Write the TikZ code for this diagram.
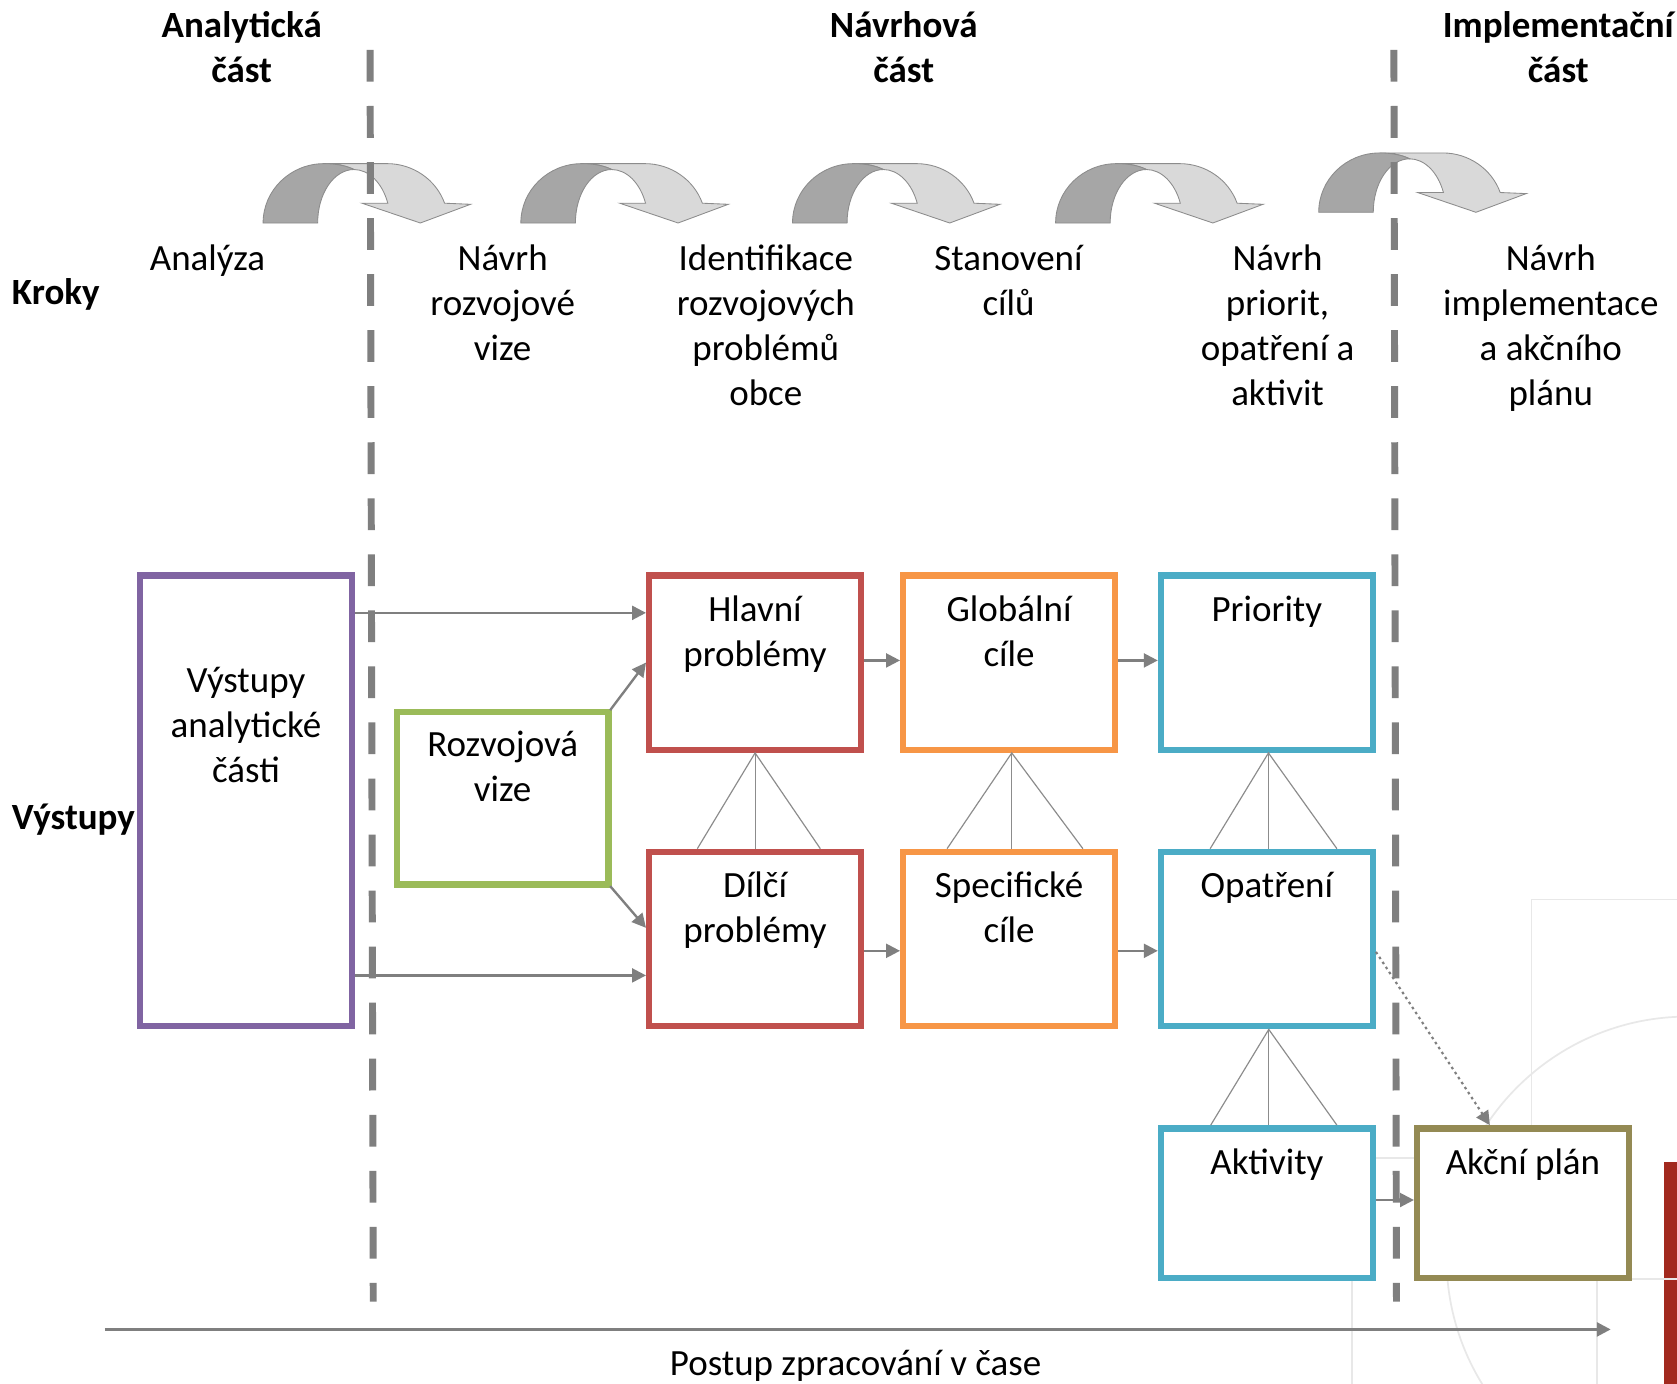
\documentclass[tikz,border=0pt]{standalone}
\usepackage{fontspec}
\setmainfont{Carlito}
\usetikzlibrary{arrows.meta}
\definecolor{cpurple}{HTML}{8064A2}
\definecolor{cgreen}{HTML}{9BBB59}
\definecolor{cred}{HTML}{C0504D}
\definecolor{corange}{HTML}{F79646}
\definecolor{cblue}{HTML}{4BACC6}
\definecolor{colive}{HTML}{948A54}
\definecolor{cgray}{HTML}{7F7F7F}
\definecolor{ctri}{HTML}{8C8C8C}
\definecolor{cdark}{HTML}{A6A6A6}
\definecolor{clight}{HTML}{D9D9D9}
\definecolor{coutl}{HTML}{8C8C8C}
\definecolor{cfaint}{HTML}{E8E8E8}
\definecolor{cbar}{HTML}{A2291E}
\newcommand{\regfont}{\fontsize{34.6}{42}\selectfont}
\newcommand{\bxtext}[3]{\parbox[c][#1][t]{198pt}{\centering\vspace*{#2}\strut #3\par}}
\tikzset{
  box/.style={draw, line width=6pt, fill=white, inner sep=0pt, font=\regfont},
  txt/.style={align=center, anchor=north, inner sep=0pt, font=\regfont},
  hdr/.style={txt, font=\regfont\bfseries},
  side/.style={anchor=base west, inner sep=0pt, font=\regfont\bfseries},
  conn/.style={draw=cgray, line width=2.2pt, -{Triangle[length=13pt,width=13pt]}},
  dotconn/.style={draw=cgray, line width=2pt, dash pattern=on 2.4pt off 3.2pt, -{Triangle[length=13pt,width=13pt]}},
  tri/.style={draw=ctri, line width=1.1pt},
  vdash/.style={draw=cgray, line width=6.5pt, dash pattern=on 29.7pt off 22.7pt},
  faint/.style={draw=cfaint, line width=1.6pt},
  carrow/.pic={
    \path[fill=clight, draw=coutl, line width=0.8pt] (57,0) -- (116,0)
      .. controls (140.1,0) and (161.7,14.9) .. (169.7,37) -- (194,38) -- (147,55.5)
      -- (92.5,37) -- (116.6,37) .. controls (111.45,18) and (98.9,5.5) .. (85,5.5)
      .. controls (79,2.5) and (70,0) .. (57,0) -- cycle;
    \path[fill=cdark, draw=coutl, line width=0.8pt] (0,55.5)
      .. controls (0,24.85) and (25.5,0) .. (57,0)
      .. controls (70,0) and (79,2.5) .. (85,5.5)
      .. controls (66.2,5.5) and (51,27.9) .. (51,55.5) -- cycle;
  }
}
\begin{document}
\begin{tikzpicture}[x=1pt,y=-1pt]
\path[use as bounding box, fill=white] (0,0) rectangle (1568,1294);

% faint background decoration
\begin{scope}
  \clip (1200,800) rectangle (1568,1294);
  \draw[faint] (1578,1176) circle[radius=225.5];
  \draw[faint] (1264,1294) -- (1264,1083) -- (1493,1083) -- (1493,1294);
\end{scope}
\fill[cbar] (1556,1086) rectangle (1568,1294);
\draw[faint] (1432,1198) -- (1432,841) -- (1568,841);
\draw[faint] (1432,1196) -- (1568,1196);

% curved step arrows
\pic at (246,153) {carrow};
\pic at (487,153) {carrow};
\pic at (741,153) {carrow};
\pic at (987,153) {carrow};
\pic at (1233,143) {carrow};

% phase separators
\draw[vdash] (346,46.7) -- (349,1217);
\draw[vdash] (1303.3,46.7) -- (1305.7,1217);

% headers
\node[hdr] (hA) at (226,5.1) {\strut Analytická\\část};
\node[hdr] (hN) at (845,5.1) {\strut Návrhová\\část};
\node[hdr] (hI) at (1457,5.1) {\strut Implementační\\část};

% step labels
\node[txt] (s1) at (194,223.4) {\strut Analýza};
\node[txt] (s2) at (470,223.4) {\strut Návrh\\rozvojové\\vize};
\node[txt] (s3) at (716,223.4) {\strut Identifikace\\rozvojových\\problémů\\obce};
\node[txt] (s4) at (943,223.4) {\strut Stanovení\\cílů};
\node[txt] (s5) at (1194.5,223.4) {\strut Návrh\\priorit,\\opatření a\\aktivit};
\node[txt] (s6) at (1450,223.4) {\strut Návrh\\implementace\\a akčního\\plánu};

\node[side] (kroky) at (11,285) {Kroky};
\node[side] (vystupy) at (11,776) {Výstupy};

% output boxes
\node[box, draw=cpurple] (vyst) at (230,748.75) {\bxtext{421.5pt}{80.5pt}{Výstupy\\analytické\\části}};
\node[box, draw=cgreen] (vize) at (470,746.25) {\bxtext{161.5pt}{12.3pt}{Rozvojová\\vize}};
\node[box, draw=cred] (hlavni) at (706,619.5) {\bxtext{163pt}{13.6pt}{Hlavní\\problémy}};
\node[box, draw=cred] (dilci) at (706,878) {\bxtext{163pt}{13.4pt}{Dílčí\\problémy}};
\node[box, draw=corange] (glob) at (943.5,619.5) {\bxtext{163pt}{13.6pt}{Globální\\cíle}};
\node[box, draw=corange] (spec) at (943.5,878) {\bxtext{163pt}{13.4pt}{Specifické\\cíle}};
\node[box, draw=cblue] (prio) at (1184.5,619.5) {\bxtext{163pt}{14pt}{Priority}};
\node[box, draw=cblue] (opat) at (1184.5,878) {\bxtext{163pt}{13.6pt}{Opatření}};
\node[box, draw=cblue] (akt) at (1184.5,1125) {\bxtext{140pt}{14pt}{Aktivity}};
\node[box, draw=colive] (akcni) at (1424,1125) {\bxtext{140pt}{14pt}{Akční plán}};

% hierarchy triangles
\foreach \u/\l/\a/\p/\q in {hlavni/dilci/0/-54/61, glob/spec/2.5/-58/69, prio/opat/1.5/-53/65.5, opat/akt/1.8/-52.5/65.5}{
  \draw[tri] ([xshift=\p pt]\l.north) -- ([xshift=\a pt]\u.south) -- ([xshift=\q pt]\l.north);
  \draw[tri] ([xshift=\a pt]\u.south) -- ([xshift=\a pt]\l.north);
}

% connectors
\coordinate (ya) at (0,573);
\coordinate (yb) at (0,912);
\coordinate (yc) at (0,867.5);
\coordinate (yt) at (0,617.5);
\coordinate (yd) at (0,889);
\coordinate (ye) at (0,890);
\coordinate (yg) at (0,1122);
\coordinate (xf) at (1393,0);
\draw[conn] (vyst.east |- ya) -- (hlavni.west |- ya);
\draw[conn] (vyst.east |- yb) -- (dilci.west |- yb);
\draw[conn] ([shift={(-1.5,1.5)}]vize.north east) -- (hlavni.west);
\draw[conn] ([shift={(-1.5,-1.5)}]vize.south east) -- (dilci.west |- yc);
\draw[conn] (hlavni.east |- yt) -- (glob.west |- yt);
\draw[conn] (dilci.east |- yd) -- (spec.west |- yd);
\draw[conn] (glob.east |- yt) -- (prio.west |- yt);
\draw[conn] (spec.east |- yd) -- (opat.west |- yd);
\draw[conn] (akt.east |- yg) -- (akcni.west |- yg);
\draw[dotconn] (opat.east |- ye) -- (akcni.north -| xf);

% time axis
\coordinate (t0) at (98,1243);
\coordinate (t1) at (1506,1243);
\draw[conn, line width=2.6pt] (t0) -- (t1);
\node[txt] (postup) at (800,1256.6) {\strut Postup zpracování v čase};
\end{tikzpicture}
\end{document}
